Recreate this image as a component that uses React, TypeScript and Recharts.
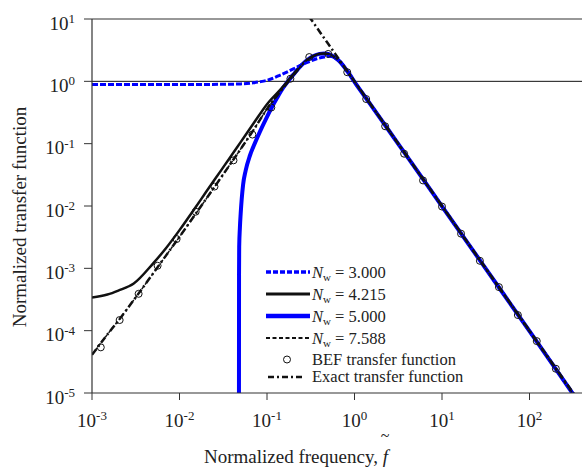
import React from 'react';
import { ComposedChart, Line, XAxis, YAxis, ReferenceLine } from 'recharts';

const FONT = '"Liberation Serif", Tinos, "Times New Roman", Times, "DejaVu Serif", serif';
const TXT = { fontFamily: FONT };

// tick values
const xTicks = [0.001, 0.01, 0.1, 1, 10, 100];
const yTicks = [1e-5, 1e-4, 1e-3, 1e-2, 1e-1, 1, 10];

// shared high-frequency tail
const tailF = [1.5, 2, 3, 5, 10, 20, 50, 100, 200, 400];
const tailH = [0.44, 0.248, 0.11, 0.0398, 0.0099, 2.47e-3, 3.95e-4, 9.8e-5, 2.42e-5, 5.9e-6];

// N_w = 3.000 (blue dashed)
const fN3 = [0.001, 0.003, 0.01, 0.03, 0.05, 0.07, 0.085, 0.1, 0.14, 0.2, 0.24, 0.3, 0.37, 0.45, 0.52, 0.6, 0.7, 0.8, 0.9, 1, ...tailF];
const hN3 = [0.89, 0.89, 0.89, 0.895, 0.91, 0.95, 0.99, 1.04, 1.25, 1.58, 1.8, 2.05, 2.3, 2.45, 2.52, 2.38, 1.98, 1.55, 1.23, 0.98, ...tailH];

// N_w = 4.215 (black solid)
const fN4 = [0.001, 0.0015, 0.002, 0.003, 0.005, 0.007, 0.01, 0.015, 0.02, 0.03, 0.05, 0.07, 0.1, 0.15, 0.2, 0.25, 0.3, 0.35, 0.4, 0.45, 0.5, 0.6, 0.7, 0.8, 0.9, 1, ...tailF];
const hN4 = [3.4e-4, 3.8e-4, 4.4e-4, 5.7e-4, 1.2e-3, 2.1e-3, 4.1e-3, 9.2e-3, 0.0166, 0.0376, 0.106, 0.21, 0.43, 0.8, 1.3, 1.85, 2.3, 2.6, 2.76, 2.8, 2.74, 2.4, 1.98, 1.55, 1.23, 0.98, ...tailH];

// N_w = 5.000 (blue thick solid)
const fN5 = [0.0477, 0.0479, 0.0481, 0.049, 0.05, 0.0533, 0.057, 0.0637, 0.07, 0.0828, 0.1, 0.112, 0.13, 0.153, 0.18, 0.2, 0.25, 0.3, 0.35, 0.4, 0.45, 0.5, 0.6, 0.7, 0.8, 0.9, 1, ...tailF];
const hN5 = [1e-7, 8e-4, 2.2e-3, 4.5e-3, 7.5e-3, 0.022, 0.037, 0.064, 0.09, 0.155, 0.27, 0.37, 0.54, 0.79, 1.07, 1.28, 1.84, 2.3, 2.6, 2.76, 2.8, 2.74, 2.4, 1.98, 1.55, 1.23, 0.98, ...tailH];

// N_w = 7.588 (black thin dashed)
const fN7 = [0.001, 0.0015, 0.002, 0.003, 0.005, 0.007, 0.01, 0.015, 0.02, 0.03, 0.05, 0.07, 0.1, 0.15, 0.2, 0.25, 0.3, 0.35, 0.4, 0.45, 0.5, 0.6, 0.7, 0.8, 0.9, 1, ...tailF];
const hN7 = [4.1e-5, 8.7e-5, 1.45e-4, 3.1e-4, 8.3e-4, 1.6e-3, 3.2e-3, 7.2e-3, 0.0128, 0.029, 0.082, 0.165, 0.36, 0.76, 1.25, 1.82, 2.3, 2.6, 2.76, 2.8, 2.74, 2.4, 1.98, 1.55, 1.23, 0.98, ...tailH];

// BEF transfer function (open circles)
const fBef = [0.00126, 0.00207, 0.00341, 0.00562, 0.00927, 0.0153, 0.0251, 0.0414, 0.0681, 0.112, 0.185, 0.304, 0.501, 0.826, 1.36, 2.24, 3.69, 6.07, 10, 16.5, 27.1, 44.7, 73.6, 121, 200];
const hBef = [5.4e-5, 1.48e-4, 3.9e-4, 1.1e-3, 2.95e-3, 8.1e-3, 0.0205, 0.054, 0.14, 0.38, 1.1, 2.45, 2.75, 1.4, 0.52, 0.19, 0.069, 0.0257, 0.0098, 3.6e-3, 1.32e-3, 5e-4, 1.78e-4, 6.8e-5, 2.45e-5];

// Exact transfer function (dash-dot), low and high branches
const fExLow = [0.001, 0.0015, 0.002, 0.003, 0.005, 0.007, 0.01, 0.015, 0.02, 0.03, 0.05, 0.07, 0.1, 0.15, 0.2, 0.25];
const hExLow = [4.1e-5, 8.7e-5, 1.45e-4, 3.1e-4, 8.3e-4, 1.6e-3, 3.2e-3, 7.2e-3, 0.0128, 0.029, 0.082, 0.165, 0.36, 0.76, 1.25, 1.82];
const fExHigh = [0.3, 0.35, 0.4, 0.5, 0.6, 0.7, 0.8, 1, 1.5, 2, 3, 5, 10, 20, 50, 100, 200, 400];
const hExHigh = [11.1, 8.2, 6.25, 4.0, 2.78, 2.04, 1.56, 1.0, 0.444, 0.25, 0.111, 0.04, 0.01, 2.5e-3, 4e-4, 1e-4, 2.5e-5, 6.25e-6];

const pts = (fs: number[], hs: number[]) => fs.map((f, i) => ({ f, h: hs[i] }));

const BLUE = '#0000ff';
const INK = '#111';
const AXIS = '#333';

function XTick(props: any) {
  const { x, y, payload } = props;
  const e = Math.round(Math.log10(payload.value));
  return (
    <text x={x} y={y + 27} textAnchor="middle" style={TXT} fontSize={19} fill="#222">
      <tspan>10</tspan>
      <tspan dy={-7.5} fontSize={13}>{e}</tspan>
    </text>
  );
}

function YTick(props: any) {
  const { x, y, payload } = props;
  const e = Math.round(Math.log10(payload.value));
  return (
    <text x={x - 9} y={y + 10.5} textAnchor="end" style={TXT} fontSize={19} fill="#222">
      <tspan>10</tspan>
      <tspan dy={-6.5} fontSize={13}>{e}</tspan>
    </text>
  );
}

const legendRows = [
  { y: 272, label: '3.000', stroke: BLUE, width: 3.5, dash: '5 2' },
  { y: 294, label: '4.215', stroke: INK, width: 3, dash: undefined },
  { y: 316, label: '5.000', stroke: BLUE, width: 4.5, dash: undefined },
  { y: 338, label: '7.588', stroke: INK, width: 1.8, dash: '4 2.5' },
];

function Overlay() {
  return (
    <svg width={582} height={473} style={{ position: 'absolute', left: 0, top: 0, pointerEvents: 'none', fontFamily: FONT }}>
      {legendRows.map((r) => (
        <g key={r.label}>
          <line x1={266} x2={310} y1={r.y} y2={r.y} stroke={r.stroke} strokeWidth={r.width} strokeDasharray={r.dash} />
          <text x={312} y={r.y + 5.5} style={TXT} fontSize={16.5} fill="#222">
            <tspan fontStyle="italic">N</tspan>
            <tspan fontSize={11} dy={3.5}>w</tspan>
            <tspan dy={-3.5}> = {r.label}</tspan>
          </text>
        </g>
      ))}
      <circle cx={287} cy={359.5} r={3.5} fill="none" stroke={INK} strokeWidth={1} />
      <text x={312} y={365} style={TXT} fontSize={16.5} fill="#222">BEF transfer function</text>
      <line x1={268} x2={302} y1={377} y2={377} stroke={INK} strokeWidth={2.5} strokeDasharray="6 3 2 3" />
      <text x={312} y={382} style={TXT} fontSize={16.5} fill="#222">Exact transfer function</text>

      <text x={296} y={463} textAnchor="middle" style={TXT} fontSize={19} fill="#222">
        Normalized frequency, <tspan fontStyle="italic">f</tspan>
      </text>
      <text x={385} y={441} textAnchor="middle" style={TXT} fontSize={16} fill="#222">~</text>
      <text transform="translate(26, 217) rotate(-90)" textAnchor="middle" style={TXT} fontSize={19} fill="#222">
        Normalized transfer function
      </text>
    </svg>
  );
}

export default function App() {
  return (
    <div style={{ position: 'absolute', left: 0, top: 0, width: 582, height: 473, background: '#fff', fontFamily: FONT }}>
      <ComposedChart width={582} height={473} margin={{ top: 19, right: 0, bottom: 0, left: 32 }}>
        <XAxis
          dataKey="f"
          type="number"
          scale="log"
          domain={[0.001, 398]}
          allowDataOverflow
          ticks={xTicks}
          tick={<XTick />}
          tickSize={7}
          tickMargin={0}
          height={80}
          stroke={AXIS}
          axisLine={{ stroke: AXIS, strokeWidth: 1.2 }}
          tickLine={{ stroke: AXIS }}
        />
        <YAxis
          type="number"
          scale="log"
          domain={[1e-5, 10]}
          allowDataOverflow
          ticks={yTicks}
          tick={<YTick />}
          tickSize={8}
          tickMargin={0}
          width={60}
          stroke={AXIS}
          axisLine={{ stroke: AXIS, strokeWidth: 1.2 }}
          tickLine={{ stroke: AXIS }}
        />
        <ReferenceLine y={10} stroke={AXIS} strokeWidth={1.2} />
        <ReferenceLine y={1} stroke={INK} strokeWidth={1} />
        <Line data={pts(fN5, hN5)} dataKey="h" type="monotone" stroke={BLUE} strokeWidth={4} dot={false} activeDot={false} isAnimationActive={false} />
        <Line data={pts(fN4, hN4)} dataKey="h" type="monotone" stroke={INK} strokeWidth={2.5} dot={false} activeDot={false} isAnimationActive={false} />
        <Line data={pts(fN3, hN3)} dataKey="h" type="monotone" stroke={BLUE} strokeWidth={3} strokeDasharray="6 2" dot={false} activeDot={false} isAnimationActive={false} />
        <Line data={pts(fN7, hN7)} dataKey="h" type="monotone" stroke={INK} strokeWidth={1.5} strokeDasharray="3 2.5" dot={false} activeDot={false} isAnimationActive={false} />
        <Line data={pts(fExLow, hExLow)} dataKey="h" type="monotone" stroke={INK} strokeWidth={2.5} strokeDasharray="7 3 2 3" dot={false} activeDot={false} isAnimationActive={false} />
        <Line data={pts(fExHigh, hExHigh)} dataKey="h" type="monotone" stroke={INK} strokeWidth={2.5} strokeDasharray="7 3 2 3" dot={false} activeDot={false} isAnimationActive={false} />
        <Line
          data={pts(fBef, hBef)}
          dataKey="h"
          stroke="none"
          dot={{ r: 3.5, fill: 'none', stroke: INK, strokeWidth: 1 }}
          activeDot={false}
          isAnimationActive={false}
        />
      </ComposedChart>
      <Overlay />
    </div>
  );
}
